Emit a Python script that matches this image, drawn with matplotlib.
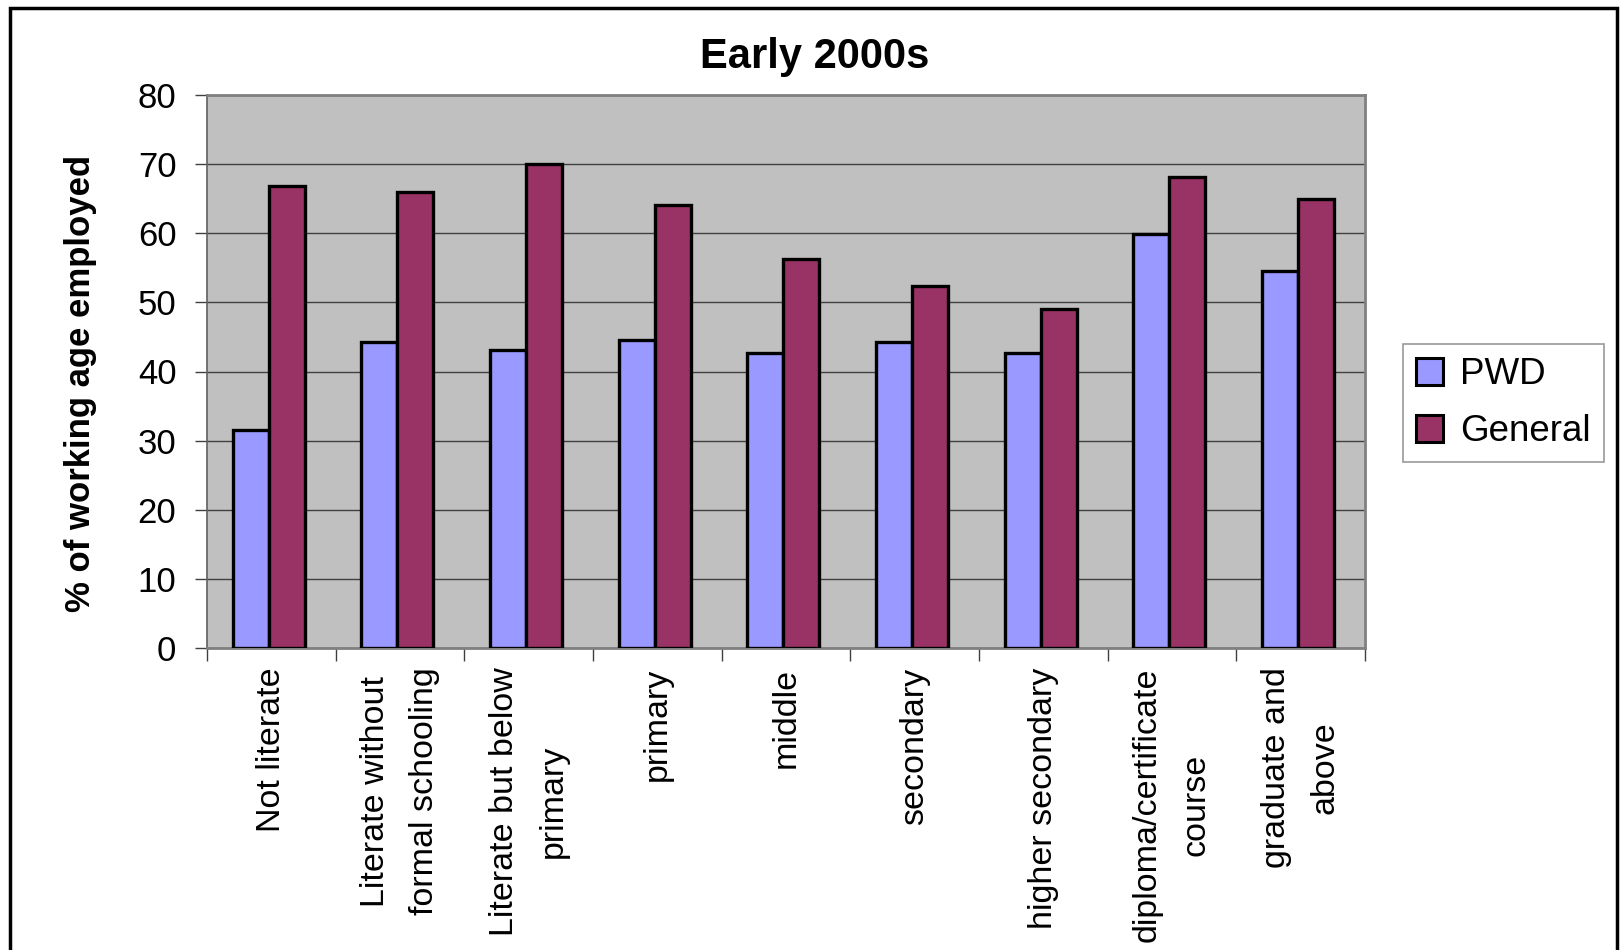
import matplotlib
matplotlib.use("Agg")
import matplotlib.pyplot as plt
from matplotlib.patches import Rectangle, Patch
import numpy as np

plt.rcParams['font.family'] = ['Liberation Sans', 'DejaVu Sans']

categories = [
    "Not literate",
    "Literate without\nformal schooling",
    "Literate but below\nprimary",
    "primary",
    "middle",
    "secondary",
    "higher secondary",
    "diploma/certificate\ncourse",
    "graduate and\nabove",
]
pwd = [31.5, 44.2, 43.1, 44.6, 42.7, 44.2, 42.7, 59.9, 54.5]
general = [66.8, 65.9, 70.0, 64.1, 56.3, 52.3, 49.1, 68.2, 65.0]
series_names = ["PWD", "General"]
yticks = [0, 10, 20, 30, 40, 50, 60, 70, 80]

pwd_color = "#9999FF"
gen_color = "#993366"

fig = plt.figure(figsize=(16.23, 9.5), dpi=100)
fig.patch.set_facecolor("white")

# outer chart border
fig.patches.append(Rectangle((10 / 1623, -0.05), (1617 - 10) / 1623, 1 - 8 / 950 + 0.05,
                             transform=fig.transFigure, fill=False,
                             edgecolor="black", linewidth=2.5))

ax = fig.add_axes([207 / 1623, 1 - 648 / 950, (1365 - 207) / 1623, (648 - 95) / 950])
ax.set_facecolor("#C0C0C0")

x = np.arange(len(categories))
w = 0.28
ax.bar(x - w / 2 - 0.02, pwd, width=w, color=pwd_color, edgecolor="black", linewidth=2.4, zorder=3)
ax.bar(x + w / 2 - 0.02, general, width=w, color=gen_color, edgecolor="black", linewidth=2.4, zorder=3)

ax.set_xlim(-0.5, len(categories) - 0.5)
ax.set_ylim(0, 80)
ax.set_yticks(yticks)
ax.set_yticklabels([str(v) for v in yticks], fontsize=25)
ax.yaxis.grid(True, color="#404040", linewidth=1.0, zorder=0)
ax.set_axisbelow(True)

ax.set_xticks(x)
ax.set_xticklabels(categories, rotation=90, fontsize=24.5, ha="center", va="top",
                   multialignment="center", linespacing=1.75)
ax.tick_params(axis="x", length=0, pad=14)
ax.set_xticks(np.arange(len(categories) + 1) - 0.5, minor=True)
ax.tick_params(axis="x", which="minor", length=9, width=1, color="#404040")
ax.tick_params(axis="y", length=9, width=1, color="#404040", pad=13)

for s in ax.spines.values():
    s.set_color("#808080")
    s.set_linewidth(2)
ax.spines["left"].set_color("#606060")
ax.spines["left"].set_linewidth(1.2)

fig.text(815 / 1623, 1 - 57 / 950, "Early 2000s", fontsize=30, fontweight="bold",
         ha="center", va="center")
fig.text(81 / 1623, 1 - 383 / 950, "% of working age employed", fontsize=25,
         fontweight="bold", rotation=90, ha="center", va="center")

handles = [Patch(facecolor=pwd_color, edgecolor="black", linewidth=2.2),
           Patch(facecolor=gen_color, edgecolor="black", linewidth=2.2)]
leg = fig.legend(handles, series_names, loc="center left",
                 bbox_to_anchor=(1403 / 1623, 1 - 403 / 950), fontsize=26.5,
                 frameon=True, fancybox=False, handlelength=0.75, handleheight=0.75,
                 handletextpad=0.45, labelspacing=0.6, borderpad=0.35,
                 borderaxespad=0)
leg.get_frame().set_edgecolor("#808080")
leg.get_frame().set_linewidth(1.2)

fig.savefig("out.png", dpi=100)
